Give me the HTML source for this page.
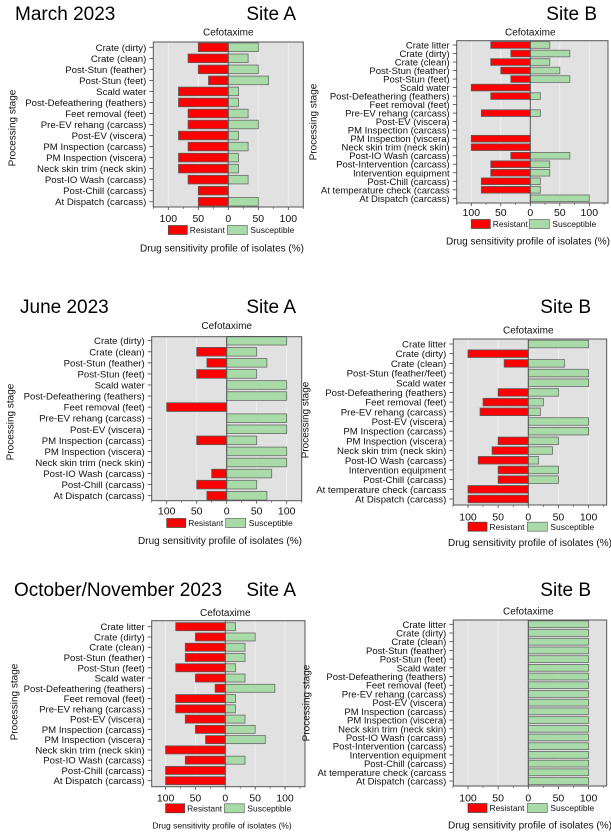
<!DOCTYPE html>
<html><head><meta charset="utf-8">
<style>
html,body{margin:0;padding:0;background:#fff;}
svg{display:block;font-family:"Liberation Sans",Arial,sans-serif;}
</style></head>
<body>
<svg id="fig" width="611" height="836" viewBox="0 0 611 836" xmlns="http://www.w3.org/2000/svg"></svg>
<script>
const catsA15 = ["Crate (dirty)","Crate (clean)","Post-Stun (feather)","Post-Stun (feet)","Scald water","Post-Defeathering (feathers)","Feet removal (feet)","Pre-EV rehang (carcass)","Post-EV (viscera)","PM Inspection (carcass)","PM Inspection (viscera)","Neck skin trim (neck skin)","Post-IO Wash (carcass)","Post-Chill (carcass)","At Dispatch (carcass)"];
const catsB19 = ["Crate litter","Crate (dirty)","Crate (clean)","Post-Stun (feather)","Post-Stun (feet)","Scald water","Post-Defeathering (feathers)","Feet removal (feet)","Pre-EV rehang (carcass)","Post-EV (viscera)","PM Inspection (carcass)","PM Inspection (viscera)","Neck skin trim (neck skin)","Post-IO Wash (carcass)","Post-Intervention (carcass)","Intervention equipment","Post-Chill (carcass)","At temperature check (carcass","At Dispatch (carcass)"];
const catsJuneB = ["Crate litter","Crate (dirty)","Crate (clean)","Post-Stun (feather/feet)","Scald water","Post-Defeathering (feathers)","Feet removal (feet)","Pre-EV rehang (carcass)","Post-EV (viscera)","PM Inspection (carcass)","PM Inspection (viscera)","Neck skin trim (neck skin)","Post-IO Wash (carcass)","Intervention equipment","Post-Chill (carcass)","At temperature check (carcass","At Dispatch (carcass)"];
const catsOctA = ["Crate litter","Crate (dirty)","Crate (clean)","Post-Stun (feather)","Post-Stun (feet)","Scald water","Post-Defeathering (feathers)","Feet removal (feet)","Pre-EV rehang (carcass)","Post-EV (viscera)","PM Inspection (carcass)","PM Inspection (viscera)","Neck skin trim (neck skin)","Post-IO Wash (carcass)","Post-Chill (carcass)","At Dispatch (carcass)"];

const marAResistant = [50,67,50,33,83,83,67,67,83,67,83,83,67,50,50];
const marASusceptible = [50,33,50,67,17,17,33,50,17,33,17,17,33,0,50];
const marBResistant = [67,33,67,50,33,100,67,0,83,0,0,100,100,33,67,67,83,83,0];
const marBSusceptible = [33,67,33,50,67,0,17,0,17,0,0,0,0,67,33,33,17,17,100];
const junAResistant = [0,50,33,50,0,0,100,0,0,50,0,0,25,50,33];
const junASusceptible = [100,50,67,50,100,100,0,100,100,50,100,100,75,50,67];
const junBResistant = [0,100,40,0,0,50,75,80,0,0,50,60,83,50,50,100,100];
const junBSusceptible = [100,0,60,100,100,50,25,20,100,100,50,40,17,50,50,0,0];
const octAResistant = [83,50,67,67,83,50,17,83,83,67,50,33,100,67,100,100];
const octASusceptible = [17,50,33,33,17,33,83,17,17,33,50,67,0,33,0,0];
const octBResistant = [0,0,0,0,0,0,0,0,0,0,0,0,0,0,0,0,0,0,0];
const octBSusceptible = [100,100,100,100,100,100,100,100,100,100,100,100,100,100,100,100,100,100,100];
const tickValues = [-100,-50,0,50,100];
const tickLabels = ["100","50","0","50","100"];

const NS="http://www.w3.org/2000/svg";
const svg=document.getElementById('fig');
function mk(tag,attrs,parent,text){const e=document.createElementNS(NS,tag);for(const k in attrs)e.setAttribute(k,attrs[k]);if(text!==undefined)e.textContent=text;(parent||svg).appendChild(e);return e;}

function panel(cfg){
  const g=mk('g',{});
  
  
  const x=v=>cfg.zero+v*cfg.scale/100;
  const n=cfg.cats.length;
  const sp=(cfg.lastY-cfg.firstY)/(n-1);
  const y=i=>cfg.firstY+i*sp;
  const bh=sp*0.78;
  const bg=mk('rect',{x:cfg.left,y:cfg.top,width:cfg.right-cfg.left,height:cfg.bottom-cfg.top,fill:'#e1e1e1',stroke:'none'},g);
  
  
  tickValues.forEach(t=>{mk('line',{x1:x(t),x2:x(t),y1:cfg.top,y2:cfg.bottom,stroke:'#f2f2f2','stroke-width':0.8},g);});
  cfg.cats.forEach((c,i)=>{
    const r=cfg.res[i],s=cfg.sus[i];
    if(r>0){const b=mk('rect',{x:x(-r),y:y(i)-bh/2,width:x(0)-x(-r),height:bh,fill:'#ff0000',stroke:'#5a5a5a','stroke-width':0.8},g);
      
      }
    if(s>0){const b=mk('rect',{x:x(0),y:y(i)-bh/2,width:x(s)-x(0),height:bh,fill:'#a9dba9',stroke:'#6a6a6a','stroke-width':0.8},g);
      
      }
    mk('line',{x1:cfg.left-4,x2:cfg.left,y1:y(i),y2:y(i),stroke:'#444','stroke-width':0.8},g);
    const t=mk('text',{x:cfg.left-7,y:y(i)+3.5,'font-size':cfg.fs,'text-anchor':'end',fill:'#111'},g,c);
    
    
  });
  mk('line',{x1:x(0),x2:x(0),y1:cfg.top,y2:cfg.bottom,stroke:'#555','stroke-width':1},g);
  mk('rect',{x:cfg.left,y:cfg.top,width:cfg.right-cfg.left,height:cfg.bottom-cfg.top,fill:'none',stroke:'#555','stroke-width':1},g);
  tickValues.forEach((t,k)=>{
    mk('line',{x1:x(t),x2:x(t),y1:cfg.bottom,y2:cfg.bottom+3,stroke:'#444','stroke-width':0.8},g);
    const tl=mk('text',{x:x(t),y:cfg.tickY+4,'font-size':10.5,'text-anchor':'middle',fill:'#111'},g,tickLabels[k]);
    
    
  });
  [-125,-75,-25,25,75,125].forEach(t=>{if(x(t)>=cfg.left-0.5&&x(t)<=cfg.right+0.5)mk('line',{x1:x(t),x2:x(t),y1:cfg.bottom,y2:cfg.bottom+2,stroke:'#444','stroke-width':0.6},g);});
  const ct=mk('text',{x:x(0),y:cfg.cefY+3.5,'font-size':10,'text-anchor':'middle',fill:'#111'},g,'Cefotaxime');
  
  
  const lx=x(-100);
  const lr=mk('rect',{x:lx,y:cfg.legY-4.5,width:19,height:9,fill:'#ff0000',stroke:'#444','stroke-width':0.7},g);
  
  
  const lt=mk('text',{x:lx+21.5,y:cfg.legY+3.2,'font-size':8.6,fill:'#111',textLength:35,lengthAdjust:'spacingAndGlyphs'},g,'Resistant');
  
  
  const gx=x(0)-1;
  const lg=mk('rect',{x:gx,y:cfg.legY-4.5,width:20,height:9,fill:'#a9dba9',stroke:'#666','stroke-width':0.7},g);
  
  
  const lt2=mk('text',{x:gx+23,y:cfg.legY+3.2,'font-size':8.6,fill:'#111',textLength:44,lengthAdjust:'spacingAndGlyphs'},g,'Susceptible');
  
  
  const xt=mk('text',{x:cfg.xtX,y:cfg.xtY+3.5,'font-size':cfg.xtFs,'text-anchor':'middle',fill:'#111'},g,'Drug sensitivity profile of isolates (%)');
  
  
  const yt=mk('text',{x:0,y:0,'font-size':10,'text-anchor':'middle',fill:'#111',transform:`translate(${cfg.ytX+3.5},${cfg.ytY}) rotate(-90)`},g,'Processing stage');
  
  
  const st=mk('text',{x:cfg.siteX,y:cfg.siteY,'font-size':19,'text-anchor':'end',fill:'#000'},g,cfg.site);
  
  
}

panel({name:'march-site-a',cats:catsA15,res:marAResistant,sus:marASusceptible,zero:228.3,scale:60,left:153.3,right:303.3,top:42,bottom:207,firstY:47.3,lastY:201.7,fs:9.6,tickY:218,legY:230,xtX:222,xtY:248,xtFs:10,cefY:32,ytX:12,ytY:128,site:'Site A',siteX:296,siteY:20});
panel({name:'march-site-b',cats:catsB19,res:marBResistant,sus:marBSusceptible,zero:530.3,scale:59,left:456.7,right:608,top:40.7,bottom:203,firstY:45,lastY:198.3,fs:9.5,tickY:212,legY:224,xtX:528,xtY:241,xtFs:10,cefY:32,ytX:313,ytY:122,site:'Site B',siteX:597,siteY:20});
panel({name:'june-site-a',cats:catsA15,res:junAResistant,sus:junASusceptible,zero:226.7,scale:60,left:151.7,right:301.7,top:336.7,bottom:500.7,firstY:340.7,lastY:495.7,fs:9.6,tickY:510.7,legY:523,xtX:220,xtY:540.7,xtFs:10,cefY:325.7,ytX:10,ytY:422,site:'Site A',siteX:296,siteY:313});
panel({name:'june-site-b',cats:catsJuneB,res:junBResistant,sus:junBSusceptible,zero:528.3,scale:60.3,left:453.3,right:606.7,top:339,bottom:505,firstY:344,lastY:499,fs:9.6,tickY:516.7,legY:526.7,xtX:530,xtY:542.3,xtFs:10,cefY:330,ytX:305,ytY:420,site:'Site B',siteX:591,siteY:313});
panel({name:'octnov-site-a',cats:catsOctA,res:octAResistant,sus:octASusceptible,zero:225.3,scale:59.7,left:151.7,right:305,top:620.7,bottom:786.7,firstY:626.7,lastY:780.7,fs:9.6,tickY:797.7,legY:808.3,xtX:222,xtY:825,xtFs:8.5,cefY:612.3,ytX:14,ytY:702,site:'Site A',siteX:296,siteY:596});
panel({name:'octnov-site-b',cats:catsB19,res:octBResistant,sus:octBSusceptible,zero:528.3,scale:60.3,left:453.3,right:606.7,top:620,bottom:786,firstY:624.3,lastY:781,fs:9.5,tickY:797.7,legY:808,xtX:530,xtY:825,xtFs:10,cefY:611,ytX:306,ytY:703,site:'Site B',siteX:591,siteY:596});

[["March 2023",15,20,'title-march-2023'],["June 2023",20,313,'title-june-2023'],["October/November 2023",14,596,'title-octnov-2023']].forEach(a=>{
  const t=mk('text',{x:a[1],y:a[2],'font-size':19,fill:'#000'},svg,a[0]);
  
  
});
</script>
</body></html>
